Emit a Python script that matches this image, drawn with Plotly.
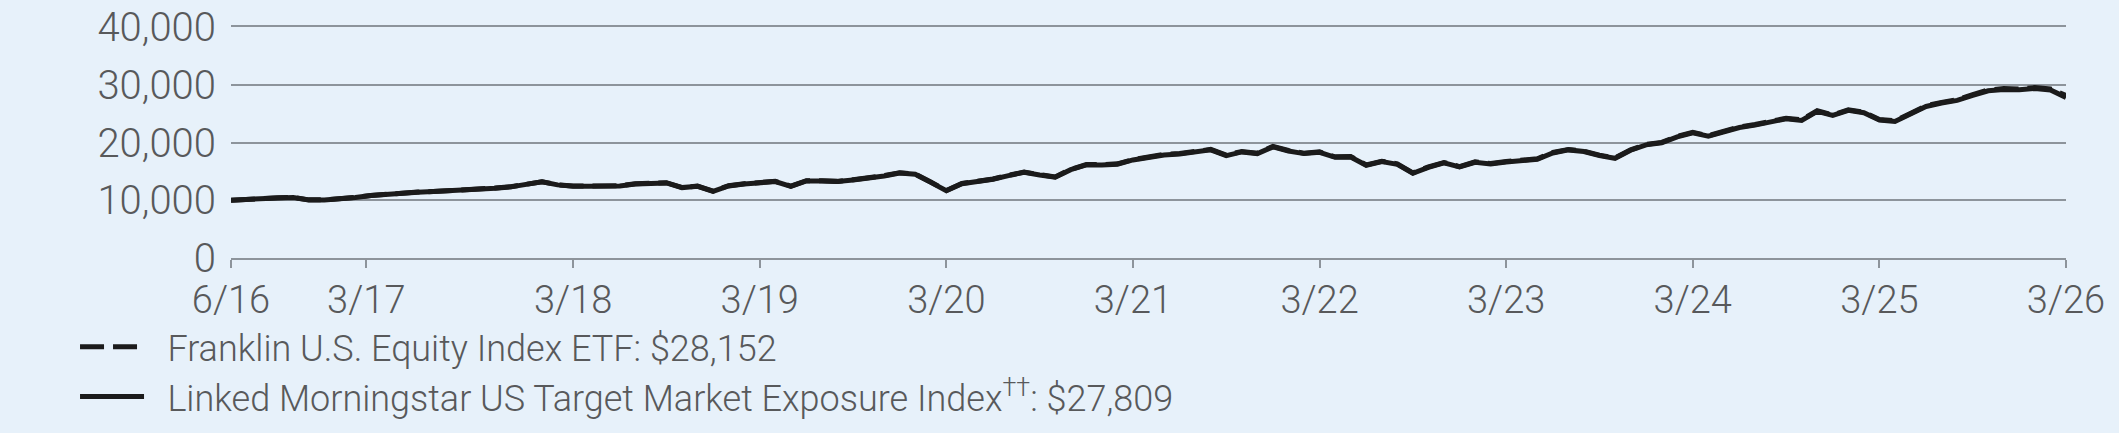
import plotly.graph_objects as go

# Growth of $10,000 (monthly points, 6/16 .. 3/26)
franklin_etf = [
    10000, 10190, 10420, 10420, 10480, 10070, 10070, 10190, 10480, 10830,
    11060, 11230, 11410, 11520, 11640, 11760, 11870, 12110, 12340, 12690,
    13210, 12690, 12450, 12450, 12510, 12510, 12860, 12980, 13040, 12220,
    12450, 11580, 12510, 12860, 13040, 13270, 12450, 13390, 13390,
    13270, 13560, 13850, 14260, 14780, 14550, 13150, 11700, 12920, 13330,
    13680, 14320, 14900, 14430, 14030, 15360, 16180, 16180, 16300, 17050,
    17520, 17930, 18100, 18450, 18800, 17810, 18450, 18160, 19320, 18620,
    18160, 18390, 17520, 17580, 16120, 16760, 16300, 14730, 15770, 16530,
    15830, 16650, 16350, 16700, 16990, 17170, 18270, 18800, 18510, 17810,
    17340, 18740, 19670, 20020, 21070, 21770, 21180, 21880, 22700, 23110,
    23750, 24210, 23920, 25490, 24790, 25670, 25260, 23980, 23750, 25080,
    26360, 26950, 27410, 28290, 29100, 29330, 29270, 29510, 29270, 28152,
]

morningstar_index = [
    10000, 10180, 10400, 10410, 10470, 10060, 10060, 10180, 10470, 10810,
    11040, 11210, 11390, 11500, 11620, 11740, 11850, 12090, 12320, 12660,
    13180, 12660, 12420, 12420, 12480, 12480, 12830, 12950, 13000, 12190,
    12420, 11550, 12470, 12820, 13000, 13230, 12410, 13350, 13350,
    13230, 13520, 13800, 14210, 14730, 14500, 13100, 11660, 12870, 13280,
    13630, 14270, 14840, 14370, 13980, 15300, 16120, 16110, 16230, 16980,
    17450, 17850, 18020, 18370, 18720, 17730, 18370, 18080, 19230, 18540,
    18080, 18310, 17440, 17500, 16050, 16690, 16230, 14670, 15700, 16460,
    15760, 16580, 16280, 16630, 16920, 17100, 18190, 18720, 18430, 17730,
    17270, 18660, 19590, 19940, 20980, 21680, 21090, 21790, 22600, 23010,
    23650, 24110, 23820, 25380, 24690, 25560, 25150, 23880, 23650, 24970,
    26240, 26830, 27290, 28160, 28960, 29190, 29130, 29370, 29110, 27809,
]

tick_labels = ["6/16", "3/17", "3/18", "3/19", "3/20", "3/21", "3/22",
               "3/23", "3/24", "3/25", "3/26"]
tick_index = [0, 8.7, 22, 34, 46, 58, 70, 82, 94, 106, 118]

y_ticks = [0, 10000, 20000, 30000, 40000]

series_names = [
    "\u2002Franklin U.S. Equity Index ETF: $28,152",
    "\u2002Linked Morningstar US Target Market Exposure Index<sup>††</sup>: $27,809",
]

x_index = list(range(len(franklin_etf)))

BG = "#e7f1fa"
TEXT = "#58595b"
GRID = "#8d949b"
LINE = "#1b1b1b"
FONT = "Roboto, Lato, sans-serif"

fig = go.Figure()
fig.add_trace(go.Scatter(
    x=x_index, y=morningstar_index, mode="lines", name=series_names[1],
    line=dict(color=LINE, width=5), legendgroup="b", legendrank=2,
))
fig.add_trace(go.Scatter(
    x=x_index, y=franklin_etf, mode="lines", name=series_names[0],
    line=dict(color=LINE, width=5, dash="24px,9px"), legendgroup="a", legendrank=1,
))

fig.update_layout(
    width=2119, height=433,
    margin=dict(l=231, r=53, t=27, b=175, autoexpand=False),
    paper_bgcolor=BG, plot_bgcolor=BG,
    font=dict(family=FONT, color=TEXT, size=36, weight=300),
    showlegend=True,
    legend=dict(
        x=-0.085, xanchor="left", y=-0.255, yanchor="top",
        orientation="v", bgcolor="rgba(0,0,0,0)",
        font=dict(family=FONT, size=36, color=TEXT, weight=300),
        tracegroupgap=3, itemwidth=64, traceorder="normal",
    ),
    xaxis=dict(
        range=[0, 118], tickmode="array", tickvals=tick_index, ticktext=tick_labels,
        showgrid=False, zeroline=False,
        showline=True, mirror=True, linecolor=GRID, linewidth=1.5,
        ticks="outside", ticklen=8, tickwidth=1.5, tickcolor=GRID,
        ticklabelstandoff=0,
        tickfont=dict(family=FONT, size=38, color=TEXT, weight=300),
        fixedrange=True,
    ),
    yaxis=dict(
        range=[0, 40000], tickmode="array", tickvals=y_ticks,
        tickformat=",d", showgrid=True, gridcolor=GRID, gridwidth=1.5,
        zeroline=False, showline=False, ticks="",
        ticklabelstandoff=14,
        tickfont=dict(family=FONT, size=40, color=TEXT, weight=300),
        fixedrange=True,
    ),
)

fig.write_html("out.html")
